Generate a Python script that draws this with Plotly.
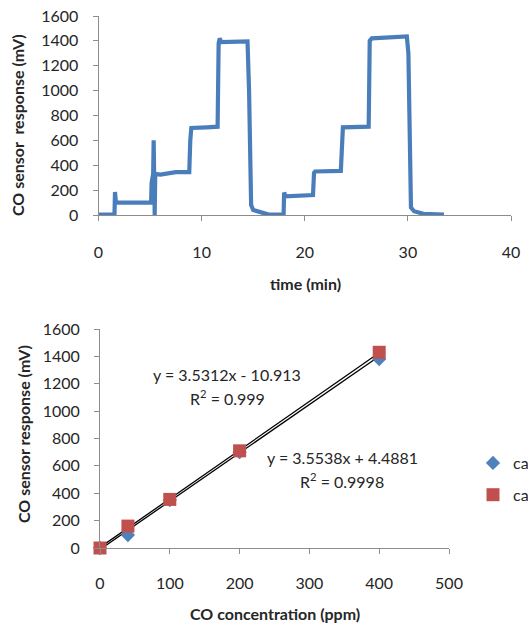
import plotly.graph_objects as go

W, H = 528, 625

# ---- Top chart data: CO sensor response vs time (corner points)
time_min = [0, 1.55, 1.6, 1.7, 1.75, 3.5, 5.1, 5.15, 5.2, 5.3, 5.35, 5.4, 5.45, 5.5, 6.0, 7.5, 8.8,
            8.9, 9.0, 10.5, 11.55, 11.65, 11.75, 11.9, 14.45, 14.6, 14.8, 15.0, 15.5, 16.0, 16.5,
            17.95, 18.0, 18.15, 20.8, 20.9, 21.0, 23.5, 23.6, 23.7, 26.2, 26.3, 26.5, 29.9,
            30.05, 30.3, 30.6, 31.5, 33.5]
response_mv = [3, 3, 185, 90, 100, 100, 100, 260, 320, 330, 600, 320, 0, 330, 325, 345, 345,
               600, 700, 705, 710, 1380, 1420, 1390, 1395, 1000, 80, 40, 25, 15, 3,
               3, 180, 150, 160, 340, 350, 355, 690, 705, 710, 1400, 1420, 1435,
               1300, 60, 30, 10, 3]

# ---- Bottom chart data: calibration
conc_ppm = [0, 40, 100, 200, 400]
cal1_mv = [0, 95, 350, 700, 1380]
cal2_mv = [0, 160, 355, 710, 1430]
fit1 = (3.5312, -10.913)
fit2 = (3.5538, 4.4881)
fit_x = [0, 400]
series_names = ["ca", "ca"]
eq1_text = ["y = 3.5312x - 10.913", "R<sup>2</sup> = 0.999"]
eq2_text = ["y = 3.5538x + 4.4881", "R<sup>2</sup> = 0.9998"]

FONT = "Lato"
TXT = "#262626"
AX = "#8c8c8c"
BLUE = "#4F81BD"
RED = "#C0504D"

def px(x):
    return x / W

def py(y):
    return 1 - y / H

fig = go.Figure()

fig.add_trace(go.Scatter(x=time_min, y=response_mv, mode="lines",
                         line=dict(color="#4A7EBB", width=4.2),
                         xaxis="x", yaxis="y", showlegend=False))

fig.add_trace(go.Scatter(x=fit_x, y=[fit1[0] * v + fit1[1] for v in fit_x], mode="lines",
                         line=dict(color="black", width=1.3), xaxis="x2", yaxis="y2",
                         showlegend=False))
fig.add_trace(go.Scatter(x=fit_x, y=[fit2[0] * v + fit2[1] for v in fit_x], mode="lines",
                         line=dict(color="black", width=1.3), xaxis="x2", yaxis="y2",
                         showlegend=False))
fig.add_trace(go.Scatter(x=conc_ppm, y=cal1_mv, mode="markers", name=series_names[0],
                         legendgroup="a",
                         marker=dict(symbol="diamond", color=BLUE, size=11),
                         xaxis="x2", yaxis="y2", cliponaxis=False))
fig.add_trace(go.Scatter(x=conc_ppm, y=cal2_mv, mode="markers", name=series_names[1],
                         legendgroup="b",
                         marker=dict(symbol="square", color=RED, size=13),
                         xaxis="x2", yaxis="y2", cliponaxis=False))

axis_common = dict(showgrid=False, zeroline=False, showline=True, linecolor=AX, linewidth=1,
                   ticks="outside", tickcolor=AX, ticklen=5, tickwidth=1, automargin=False,
                   tickfont=dict(family=FONT, size=16, color=TXT), fixedrange=True)

fig.update_layout(
    width=W, height=H, margin=dict(l=0, r=0, t=0, b=0, autoexpand=False),
    paper_bgcolor="white", plot_bgcolor="white",
    xaxis=dict(domain=[px(98.5), px(511)], range=[0, 40], dtick=10, anchor="y",
               ticklabelstandoff=18, **axis_common),
    yaxis=dict(domain=[py(215), py(16)], range=[0, 1600], dtick=200, anchor="x",
               ticklabelstandoff=11, **axis_common),
    xaxis2=dict(domain=[px(100), px(449)], range=[0, 500], dtick=100, anchor="y2",
                ticklabelstandoff=16, **axis_common),
    yaxis2=dict(domain=[py(548), py(329)], range=[0, 1600], dtick=200, anchor="x2",
                ticklabelstandoff=11, **axis_common),
    showlegend=True,
    legend=dict(x=px(473), y=py(446), xanchor="left", yanchor="top",
                font=dict(family=FONT, size=16, color=TXT), traceorder="grouped",
                tracegroupgap=8, itemwidth=30, bgcolor="rgba(0,0,0,0)"),
)

title_font = dict(family=FONT, size=16, color=TXT)
annots = [
    dict(text="<b>CO sensor  response (mV)</b>", x=px(18), y=py(125), textangle=-90),
    dict(text="<b>time (min)</b>", x=px(305), y=py(283)),
    dict(text="<b>CO sensor response (mV)</b>", x=px(23), y=py(434), textangle=-90),
    dict(text="<b>CO concentration (ppm)</b>", x=px(275), y=py(613)),
]
for a in annots:
    fig.add_annotation(xref="paper", yref="paper", showarrow=False, font=title_font,
                       xanchor="center", yanchor="middle", **a)

eq_font = dict(family=FONT, size=16, color=TXT)
for txt, (cx, cy) in zip(eq1_text, [(227, 374), (227, 397)]):
    fig.add_annotation(xref="paper", yref="paper", x=px(cx), y=py(cy), text=txt,
                       showarrow=False, font=eq_font, xanchor="center", yanchor="middle")
for txt, (cx, cy) in zip(eq2_text, [(342, 457), (342, 480)]):
    fig.add_annotation(xref="paper", yref="paper", x=px(cx), y=py(cy), text=txt,
                       showarrow=False, font=eq_font, xanchor="center", yanchor="middle")

fig.write_html("out.html", config={"displayModeBar": False},
               post_script="document.body.style.margin='0';document.body.style.overflow='hidden';")
